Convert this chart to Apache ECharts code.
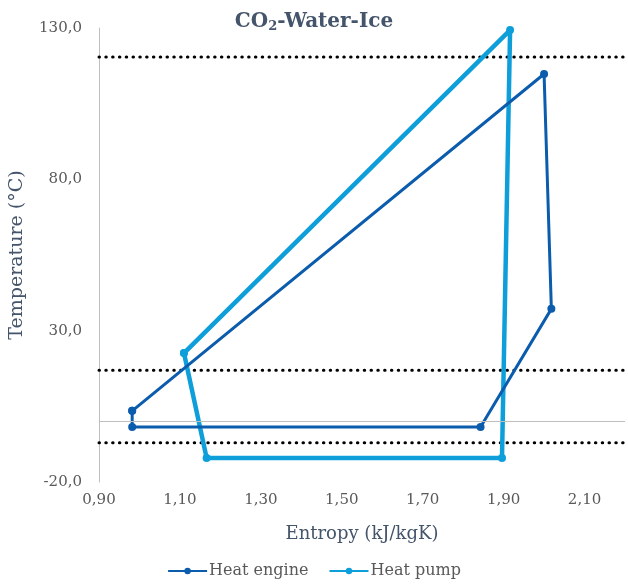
<!DOCTYPE html>
<html><head><meta charset="utf-8">
<script src="https://cdn.jsdelivr.net/npm/echarts@6/dist/echarts.min.js"></script>
<style>html,body{margin:0;padding:0;background:#fff}#c{width:628px;height:588px}</style>
</head><body><div id="c"></div>
<script>
const engineS = [0.982, 0.982, 1.843, 2.018, 2.000, 0.982];
const engineT = [3.5, -1.8, -1.8, 37.2, 114.8, 3.5];
const pumpS = [1.110, 1.166, 1.896, 1.916, 1.110];
const pumpT = [22.6, -12.1, -12.1, 129.3, 22.6];
const refLevels = [120.4, 16.9, -7.0];
const xRange = [0.9, 2.2];
const yTicks = [-20, 30, 80, 130];

const font = '"DejaVu Serif", "Liberation Serif", serif';
const txt = '#44546A';
const lbl = '#595959';
const zip = (a, b) => a.map((v, i) => [v, b[i]]);

const series = [];
refLevels.forEach(t => series.push({
  type: 'line', data: [[xRange[0], t], [xRange[1], t]], symbol: 'none', silent: true,
  lineStyle: { color: '#000', width: 3, type: [0.5, 6.3], cap: 'round' }, z: 1
}));
series.push({
  name: 'Heat engine', type: 'line', data: zip(engineS, engineT), symbol: 'circle', symbolSize: 8,
  lineStyle: { color: '#0B5CAD', width: 3 }, itemStyle: { color: '#0B5CAD' }, z: 3,
  markLine: { silent: true, symbol: 'none', label: { show: false },
    lineStyle: { color: '#BFBFBF', width: 1, type: 'solid' }, data: [{ yAxis: 0 }] }
});
series.push({
  name: 'Heat pump', type: 'line', data: zip(pumpS, pumpT), symbol: 'circle', symbolSize: 8,
  lineStyle: { color: '#0E9FDB', width: 4.5 }, itemStyle: { color: '#0E9FDB' }, z: 2
});

const chart = echarts.init(document.getElementById('c'));
chart.setOption({
  animation: false,
  title: {
    text: '{a|CO}{s|2}{a|-Water-Ice}', left: 'center', top: 6,
    textStyle: { rich: {
      a: { fontFamily: font, fontSize: 20, color: txt, fontWeight: 'bold' },
      s: { fontFamily: font, fontSize: 13, color: txt, fontWeight: 'bold', verticalAlign: 'bottom', padding: [9, 0, 0, 0] }
    } }
  },
  grid: { left: 96, top: 28, width: 537, height: 454 },
  legend: {
    bottom: 4, left: 'center', itemWidth: 39, itemHeight: 8, itemGap: 20,
    data: ['Heat engine', 'Heat pump'],
    textStyle: { fontFamily: font, fontSize: 16, color: lbl, padding: [0, 0, 0, -3] }
  },
  xAxis: {
    type: 'value', min: xRange[0], max: xRange[1], interval: 0.1,
    name: 'Entropy (kJ/kgK)', nameLocation: 'middle', nameGap: 43,
    nameTextStyle: { fontFamily: font, fontSize: 18, color: txt },
    axisLine: { show: false, onZero: false }, axisTick: { show: false }, splitLine: { show: false },
    axisLabel: { fontFamily: font, fontSize: 15, color: lbl, margin: 11,
      formatter: v => { const k = Math.round(v * 10); return (k % 2 === 1 && k <= 21) ? (k / 10).toFixed(2).replace('.', ',') : ''; } }
  },
  yAxis: {
    type: 'value', min: yTicks[0], max: yTicks[yTicks.length - 1], interval: 50,
    name: 'Temperature (°C)', nameLocation: 'middle', nameGap: 72,
    nameTextStyle: { fontFamily: font, fontSize: 19, color: txt },
    axisLine: { show: true, lineStyle: { color: '#BFBFBF' } }, axisTick: { show: false }, splitLine: { show: false },
    axisLabel: { fontFamily: font, fontSize: 15, color: lbl, margin: 17, formatter: v => v.toFixed(1).replace('.', ',') }
  },
  series
});
</script></body></html>
